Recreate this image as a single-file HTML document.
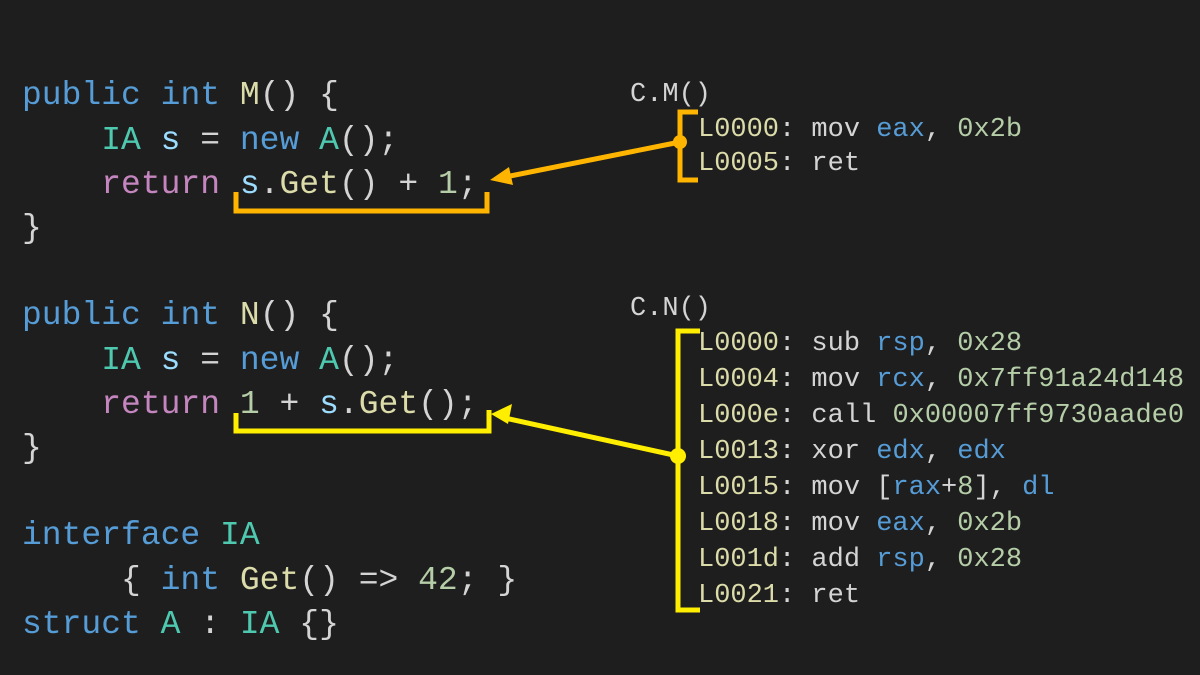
<!DOCTYPE html>
<html><head><meta charset="utf-8"><style>
html,body{margin:0;padding:0;background:#1e1e1e;}
svg{display:block}
text{white-space:pre}
.c{font-family:"Liberation Mono",monospace;font-size:33px;fill:#d4d4d4}
.a{font-family:"Liberation Mono",monospace;font-size:27px;fill:#d4d4d4}
.k{fill:#569cd6}.t{fill:#4ec9b0}.f{fill:#dcdcaa}.r{fill:#c586c0}.v{fill:#9cdcfe}.n{fill:#b5cea8}
</style></head><body>
<svg width="1200" height="675" xmlns="http://www.w3.org/2000/svg" xml:space="preserve">
<rect width="1200" height="675" fill="#1e1e1e"/>
<g class="c">
<text x="22" y="104"><tspan class="k">public</tspan> <tspan class="k">int</tspan> <tspan class="f">M</tspan>() {</text>
<text x="22" y="149">    <tspan class="t">IA</tspan> <tspan class="v">s</tspan> = <tspan class="k">new</tspan> <tspan class="t">A</tspan>();</text>
<text x="22" y="193">    <tspan class="r">return</tspan> <tspan class="v">s</tspan>.<tspan class="f">Get</tspan>() + <tspan class="n">1</tspan>;</text>
<text x="22" y="237">}</text>
<text x="22" y="324"><tspan class="k">public</tspan> <tspan class="k">int</tspan> <tspan class="f">N</tspan>() {</text>
<text x="22" y="369">    <tspan class="t">IA</tspan> <tspan class="v">s</tspan> = <tspan class="k">new</tspan> <tspan class="t">A</tspan>();</text>
<text x="22" y="413">    <tspan class="r">return</tspan> <tspan class="n">1</tspan> + <tspan class="v">s</tspan>.<tspan class="f">Get</tspan>();</text>
<text x="22" y="457">}</text>
<text x="22" y="544"><tspan class="k">interface</tspan> <tspan class="t">IA</tspan></text>
<text x="22" y="589">     { <tspan class="k">int</tspan> <tspan class="f">Get</tspan>() =&gt; <tspan class="n">42</tspan>; }</text>
<text x="22" y="633"><tspan class="k">struct</tspan> <tspan class="t">A</tspan> : <tspan class="t">IA</tspan> {}</text>
</g>
<g class="a">
<text x="630" y="101">C.M()</text>
<text x="698" y="136"><tspan class="f">L0000</tspan>: mov <tspan class="k">eax</tspan>, <tspan class="n">0x2b</tspan></text>
<text x="698" y="170"><tspan class="f">L0005</tspan>: ret</text>
<text x="630" y="315">C.N()</text>
<text x="698" y="350"><tspan class="f">L0000</tspan>: sub <tspan class="k">rsp</tspan>, <tspan class="n">0x28</tspan></text>
<text x="698" y="386"><tspan class="f">L0004</tspan>: mov <tspan class="k">rcx</tspan>, <tspan class="n">0x7ff91a24d148</tspan></text>
<text x="698" y="422"><tspan class="f">L000e</tspan>: call <tspan class="n">0x00007ff9730aade0</tspan></text>
<text x="698" y="458"><tspan class="f">L0013</tspan>: xor <tspan class="k">edx</tspan>, <tspan class="k">edx</tspan></text>
<text x="698" y="494"><tspan class="f">L0015</tspan>: mov [<tspan class="k">rax</tspan>+<tspan class="n">8</tspan>], <tspan class="k">dl</tspan></text>
<text x="698" y="530"><tspan class="f">L0018</tspan>: mov <tspan class="k">eax</tspan>, <tspan class="n">0x2b</tspan></text>
<text x="698" y="566"><tspan class="f">L001d</tspan>: add <tspan class="k">rsp</tspan>, <tspan class="n">0x28</tspan></text>
<text x="698" y="602"><tspan class="f">L0021</tspan>: ret</text>
</g>
<g stroke="#ffb400" stroke-width="5" fill="none">
<polyline points="698,112 680,112 680,180 698,180"/>
<polyline points="236,192 236,211 487,211 487,192"/>
<line x1="680" y1="142" x2="505" y2="177"/>
</g>
<circle cx="680" cy="142" r="7" fill="#ffb400"/>
<polygon points="490,180 509,167 513,185" fill="#ffb400"/>
<g stroke="#ffee00" stroke-width="5" fill="none">
<polyline points="700,331 678,331 678,610 700,610"/>
<polyline points="236,413 236,431 489,431 489,410"/>
<line x1="678" y1="456" x2="505" y2="418"/>
</g>
<circle cx="678" cy="456" r="8" fill="#ffee00"/>
<polygon points="491,414 512,404 508,424" fill="#ffee00"/>
</svg>
</body></html>
